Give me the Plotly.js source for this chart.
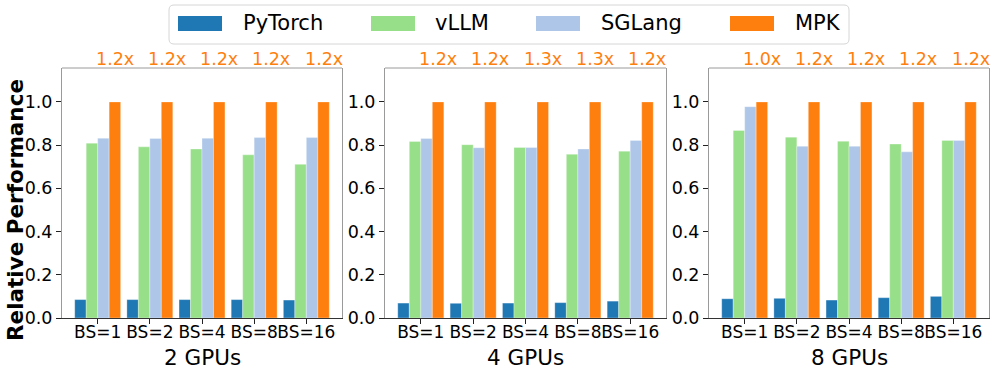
<!DOCTYPE html>
<html>
<head>
<meta charset="utf-8">
<script src="https://cdn.plot.ly/plotly-3.0.1.min.js"></script>
<style>
  html, body { margin: 0; padding: 0; background: #fff; }
  #chart { width: 996px; height: 375px; }
</style>
</head>
<body>
<div id="chart"></div>
<script>
// batch sizes on the x axis of every panel
const categories = ["BS=1", "BS=2", "BS=4", "BS=8", "BS=16"];
const panelTitles = ["2 GPUs", "4 GPUs", "8 GPUs"];
const seriesNames = ["PyTorch", "vLLM", "SGLang", "MPK"];
const seriesColors = ["#1f77b4", "#98df8a", "#aec7e8", "#ff7f0e"];

// relative performance, one row per panel (2, 4, 8 GPUs)
const pytorchPerf = [
  [0.085, 0.085, 0.085, 0.085, 0.083],
  [0.069, 0.068, 0.069, 0.071, 0.078],
  [0.089, 0.091, 0.083, 0.094, 0.100]
];
const vllmPerf = [
  [0.809, 0.792, 0.782, 0.755, 0.711],
  [0.817, 0.802, 0.789, 0.758, 0.772],
  [0.868, 0.837, 0.818, 0.805, 0.822]
];
const sglangPerf = [
  [0.832, 0.831, 0.832, 0.835, 0.835],
  [0.831, 0.788, 0.789, 0.782, 0.822],
  [0.978, 0.795, 0.795, 0.769, 0.822]
];
const mpkPerf = [
  [1.0, 1.0, 1.0, 1.0, 1.0],
  [1.0, 1.0, 1.0, 1.0, 1.0],
  [1.0, 1.0, 1.0, 1.0, 1.0]
];
// speedup labels printed above the MPK bars
const speedupLabels = [
  ["1.2x", "1.2x", "1.2x", "1.2x", "1.2x"],
  ["1.2x", "1.2x", "1.3x", "1.3x", "1.2x"],
  ["1.0x", "1.2x", "1.2x", "1.2x", "1.2x"]
];

const FONT = "DejaVu Sans, Liberation Sans, sans-serif";
const W = 996, H = 375;
const px = v => v / W;
const py = v => 1 - v / H;

// panel edges in pixels
const panelX = [[62, 342], [385, 666], [709, 989]];
const plotTop = 68, plotBottom = 318;

function buildTraces() {
  const allSeries = [pytorchPerf, vllmPerf, sglangPerf, mpkPerf];
  const traces = [];
  panelTitles.forEach((_, p) => {
    const sfx = p === 0 ? "" : String(p + 1);
    allSeries.forEach((series, s) => {
      traces.push({
        type: "bar",
        name: seriesNames[s],
        x: categories.map((_, i) => i),
        y: series[p],
        xaxis: "x" + sfx,
        yaxis: "y" + sfx,
        marker: { color: seriesColors[s], line: { color: "rgba(255,255,255,0.6)", width: 0.5 } },
        showlegend: false,
        hovertemplate: seriesNames[s] + " %{y:.3f}<extra></extra>"
      });
    });
  });
  return traces;
}

function buildLayout() {
  const layout = {
    width: W,
    height: H,
    margin: { l: 0, r: 0, t: 0, b: 0 },
    paper_bgcolor: "#fff",
    plot_bgcolor: "#fff",
    font: { family: FONT, color: "#000" },
    barmode: "group",
    bargap: 0.12,
    bargroupgap: 0,
    showlegend: false,
    annotations: [],
    shapes: []
  };

  panelTitles.forEach((title, p) => {
    const sfx = p === 0 ? "" : String(p + 1);
    const xa = "x" + sfx, ya = "y" + sfx;
    layout["xaxis" + sfx] = {
      domain: [px(panelX[p][0]), px(panelX[p][1])],
      anchor: ya,
      range: [-0.684, 4.684],
      tickvals: categories.map((_, i) => i),
      ticktext: categories,
      tickangle: 0,
      ticks: "outside",
      ticklen: 5,
      tickwidth: 1,
      tickcolor: "#222",
      ticklabelstandoff: -6,
      tickfont: { size: 17, family: FONT },
      showgrid: false,
      zeroline: false,
      showline: true,
      linecolor: "#333",
      linewidth: 1,
      fixedrange: true
    };
    layout["yaxis" + sfx] = {
      domain: [py(plotBottom), py(plotTop)],
      anchor: xa,
      range: [0, 1.157],
      tickvals: [0, 0.2, 0.4, 0.6, 0.8, 1.0],
      tickformat: ".1f",
      ticks: "outside",
      ticklen: 5,
      tickwidth: 1,
      tickcolor: "#222",
      tickfont: { size: 17.5, family: FONT },
      showgrid: false,
      zeroline: false,
      showline: true,
      mirror: true,
      linecolor: "#9a9a9a",
      linewidth: 1,
      fixedrange: true
    };

    // top border of the panel
    layout.shapes.push({
      type: "line", xref: xa + " domain", yref: ya + " domain",
      x0: 0, x1: 1, y0: 1, y1: 1,
      line: { color: "#9a9a9a", width: 1 }
    });

    // panel title under the tick labels
    layout.annotations.push({
      text: title, xref: xa + " domain", yref: "paper",
      x: 0.5, y: py(357), xanchor: "center", yanchor: "middle",
      showarrow: false, font: { size: 21.5, family: FONT, color: "#000" }
    });

    // speedup labels centred over the MPK bar of each group
    speedupLabels[p].forEach((lab, i) => {
      layout.annotations.push({
        text: lab, xref: xa, yref: ya + " domain",
        x: i + 0.33, y: 1.036, xanchor: "center", yanchor: "middle",
        showarrow: false, font: { size: 17.5, family: FONT, color: "#ff7f0e" }
      });
    });
  });

  layout.annotations.push({
    text: "<b>Relative Performance</b>", xref: "paper", yref: "paper",
    x: px(15), y: py(210), xanchor: "center", yanchor: "middle",
    textangle: -90, showarrow: false,
    font: { size: 21.5, family: FONT, color: "#000" }
  });

  // legend drawn by hand to get the wide matplotlib swatches
  const lx0 = px(169), lx1 = px(849), ly0 = py(44), ly1 = py(5);
  const rx = px(5), ry = 5 / H;
  layout.shapes.push({
    type: "path", xref: "paper", yref: "paper",
    path: `M ${lx0 + rx} ${ly1} L ${lx1 - rx} ${ly1} Q ${lx1} ${ly1} ${lx1} ${ly1 - ry} ` +
          `L ${lx1} ${ly0 + ry} Q ${lx1} ${ly0} ${lx1 - rx} ${ly0} L ${lx0 + rx} ${ly0} ` +
          `Q ${lx0} ${ly0} ${lx0} ${ly0 + ry} L ${lx0} ${ly1 - ry} Q ${lx0} ${ly1} ${lx0 + rx} ${ly1} Z`,
    fillcolor: "rgba(255,255,255,0.8)",
    line: { color: "#d6d6d6", width: 1 }
  });
  const swatchX = [178, 371, 536, 730];
  const labelX = [241, 433, 599, 793];
  seriesNames.forEach((name, s) => {
    layout.shapes.push({
      type: "rect", xref: "paper", yref: "paper",
      x0: px(swatchX[s]), x1: px(swatchX[s] + 44), y0: py(31), y1: py(16),
      fillcolor: seriesColors[s], line: { width: 0 }
    });
    layout.annotations.push({
      text: name, xref: "paper", yref: "paper",
      x: px(labelX[s]), y: py(23.5), xanchor: "left", yanchor: "middle",
      showarrow: false, font: { size: 21, family: FONT, color: "#000" }
    });
  });

  return layout;
}

Plotly.newPlot("chart", buildTraces(), buildLayout(), { displayModeBar: false, staticPlot: true });
</script>
</body>
</html>
